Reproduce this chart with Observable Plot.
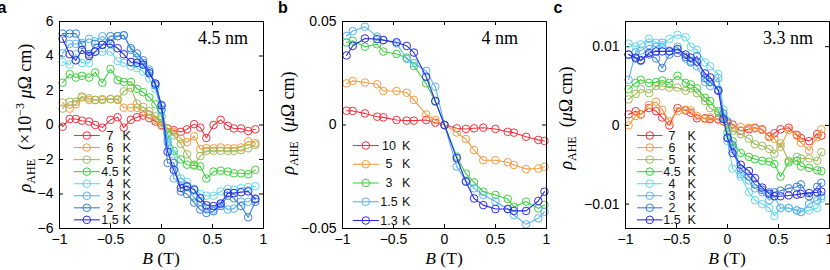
<!DOCTYPE html>
<html><head><meta charset="utf-8">
<script src="https://cdn.jsdelivr.net/npm/d3@7"></script>
<script src="https://cdn.jsdelivr.net/npm/@observablehq/plot@0.6"></script>
<style>
body{margin:0;background:#fff}
#wrap{position:relative;width:830px;height:270px;overflow:hidden;background:#fff}
#wrap svg{position:absolute;top:0}
</style>
</head><body><div id="wrap"></div>
<script>
// ---------- shared ticks ----------
const X_TICKS = [-1, -0.5, 0, 0.5, 1];
const X_TICK_LABELS = ["−1", "−0.5", "0", "0.5", "1"];

// ---------- panel a: 4.5 nm ----------
const A_TEMPS = ["7", "6", "5", "4.5", "4", "3", "2", "1.5"];
const A_Y_TICKS = [-6, -4, -2, 0, 2, 4, 6];
const A_Y_TICK_LABELS = ["−6", "−4", "−2", "0", "2", "4", "6"];
const A_B = [-0.97,-0.9,-0.84,-0.78,-0.71,-0.65,-0.58,-0.5,-0.43,-0.37,-0.3,-0.24,-0.18,-0.12,-0.06,0,0.06,0.12,0.19,0.25,0.32,0.38,0.44,0.51,0.58,0.65,0.71,0.78,0.85,0.92];
const A_7K  = [-0.1,0.35,0.35,0.25,0.2,0,-0.15,0.3,0.45,-0.15,0.3,0.45,0.55,0.4,0.2,0,-0.2,-0.3,-0.4,-0.25,0.05,-0.15,-0.75,0,0.3,-0.05,-0.2,-0.2,-0.35,-0.25];
const A_6K  = [1.3,0.95,1.2,1.6,1.45,1.45,1.45,1.5,1.5,1.0,1.0,1.0,0.8,0.6,0.3,-0.05,-0.25,-0.4,-0.8,-1.0,-0.65,-1.4,-1.35,-1.35,-1.3,-1.35,-1.35,-1.3,-0.95,-1.05];
const A_5K  = [0.95,1.35,1.35,1.65,1.55,1.45,1.5,1.5,1.45,1.95,2.15,1.25,1.05,0.8,0.5,0.1,-0.2,-0.6,-1.1,-1.7,-2.3,-1.8,-1.5,-1.5,-1.5,-1.5,-1.5,-1.45,-1.35,-1.15];
const A_45K = [2.45,2.95,2.75,2.85,2.75,3.05,2.45,3.25,2.6,2.5,2.5,2.1,1.9,1.6,1.2,0.5,-0.5,-1.5,-2.0,-2.3,-2.35,-2.4,-3.1,-2.7,-2.65,-2.7,-2.8,-2.8,-2.85,-2.6];
const A_4K  = [3.65,3.5,4.1,3.6,3.6,4.25,4.25,4.25,3.7,3.6,3.4,3.3,3.1,2.7,2.1,0.8,-0.8,-1.7,-3.1,-3.3,-3.7,-4.0,-4.1,-4.1,-3.85,-3.7,-3.75,-3.65,-3.6,-3.55];
const A_3K  = [4.15,4.7,4.7,4.75,5.0,4.85,5.15,4.75,5.15,5.2,4.35,3.9,3.6,3.2,2.4,1.1,-1.0,-3.1,-3.3,-3.6,-4.2,-4.45,-4.8,-4.9,-4.6,-4.9,-4.85,-4.45,-4.45,-4.25];
const A_2K  = [5.3,5.3,5.3,4.65,4.1,4.7,4.65,5.15,5.15,5.2,4.45,4.15,3.75,3.1,2.3,0.9,-2.2,-2.2,-3.85,-4.0,-4.5,-4.9,-5.1,-5.0,-4.7,-4.1,-4.25,-4.7,-5.35,-4.45];
const A_15K = [5.0,4.1,3.75,4.35,4.0,4.25,4.65,4.7,4.45,4.1,3.65,3.6,3.5,3.0,2.4,1.15,-1.55,-2.6,-3.65,-3.55,-3.75,-4.25,-4.65,-4.7,-4.55,-3.95,-3.95,-3.9,-3.85,-4.3];

// ---------- panel b: 4 nm ----------
const B_TEMPS = ["10", "5", "3", "1.5", "1.3"];
const B_Y_TICKS = [-0.05, 0, 0.05];
const B_Y_TICK_LABELS = ["−0.05", "0", "0.05"];
const B_B = [-0.96,-0.9,-0.78,-0.66,-0.6,-0.47,-0.37,-0.3,-0.18,-0.09,0,0.12,0.21,0.29,0.38,0.5,0.62,0.68,0.8,0.92,0.98];
const B_10K  = [0.0069,0.0068,0.0056,0.004,0.0037,0.0024,0.0021,0.0021,0.0024,0.0011,0,-0.0016,-0.0019,-0.0016,-0.0013,-0.0019,-0.0033,-0.0037,-0.0057,-0.0072,-0.0077];
const B_5K   = [0.0201,0.0213,0.0205,0.0197,0.0164,0.0164,0.0156,0.0121,0.0051,0.0024,0,-0.0036,-0.0068,-0.0121,-0.017,-0.017,-0.018,-0.0193,-0.0213,-0.021,-0.0202];
const B_3K   = [0.0399,0.0407,0.0378,0.039,0.0355,0.0343,0.0325,0.0285,0.0201,0.0113,0,-0.0153,-0.0235,-0.0277,-0.0322,-0.0338,-0.0357,-0.0395,-0.037,-0.0403,-0.0386];
const B_15K  = [0.043,0.0454,0.0475,0.0427,0.041,0.0394,0.0319,0.0298,0.0261,0.0185,0,-0.0201,-0.027,-0.0306,-0.0338,-0.037,-0.0406,-0.0435,-0.048,-0.0451,-0.0419];
const B_13K  = [0.0336,0.0382,0.0418,0.0415,0.041,0.040,0.0382,0.035,0.0233,0.0116,0,-0.016,-0.0274,-0.0355,-0.0387,-0.0406,-0.0406,-0.0415,-0.0415,-0.0367,-0.0322];

// ---------- panel c: 3.3 nm ----------
const C_TEMPS = ["7", "6", "5", "4.5", "4", "3", "2", "1.5"];
const C_Y_TICKS = [-0.01, 0, 0.01];
const C_Y_TICK_LABELS = ["−0.01", "0", "0.01"];
const C_B = [-0.97,-0.9,-0.85,-0.77,-0.7,-0.64,-0.57,-0.49,-0.41,-0.36,-0.3,-0.22,-0.17,-0.09,-0.04,0,0.05,0.13,0.21,0.27,0.34,0.41,0.46,0.52,0.6,0.68,0.72,0.8,0.88,0.92];
const C_7K  = [0.0014,0.0018,0.0014,0.0022,0.0018,0.0010,0.0000,0.0022,0.0019,0.0016,0.0009,0.0009,0.0008,0.0008,0.0005,0.0003,0.0001,-0.0007,-0.0005,-0.0003,-0.0005,-0.0014,-0.0010,-0.0005,-0.0003,-0.0012,-0.0016,-0.0020,-0.0011,-0.0013];
const C_6K  = [0.0000,0.0012,0.0014,0.0026,0.0030,0.0020,0.0005,0.0018,0.0020,0.0019,0.0012,0.0008,0.0010,0.0007,0.0005,0.0002,-0.0003,-0.0002,-0.0003,-0.0004,-0.0006,-0.0015,-0.0017,-0.0027,-0.0006,-0.0013,-0.0022,-0.0032,-0.0015,-0.0005];
const C_5K  = [0.0033,0.0040,0.0046,0.0041,0.0050,0.0050,0.0048,0.0048,0.0044,0.0047,0.0041,0.0031,0.0022,0.0016,0.0010,0.0003,-0.0007,-0.0011,-0.0017,-0.0024,-0.0026,-0.0030,-0.0036,-0.0023,-0.0045,-0.0040,-0.0042,-0.0042,-0.0045,-0.0034];
const C_45K = [0.0046,0.0054,0.0058,0.0054,0.0055,0.0057,0.0054,0.0063,0.0054,0.0052,0.0047,0.0035,0.0031,0.0018,0.0010,-0.0009,-0.0020,-0.0035,-0.0040,-0.0043,-0.0045,-0.0046,-0.0049,-0.0065,-0.0047,-0.0045,-0.0052,-0.0054,-0.0057,-0.0058];
const C_4K  = [0.0104,0.0100,0.0103,0.0110,0.0105,0.0102,0.0110,0.0115,0.0112,0.0100,0.0096,0.0080,0.0075,0.0065,0.0020,-0.0020,-0.0055,-0.0065,-0.0085,-0.0095,-0.0100,-0.0105,-0.0115,-0.0105,-0.0105,-0.0108,-0.0110,-0.0108,-0.0105,-0.0093];
const C_3K  = [0.0058,0.0093,0.0095,0.0102,0.0100,0.0105,0.0095,0.0100,0.0085,0.0082,0.0075,0.0055,0.0050,0.0060,0.0010,-0.0015,-0.0030,-0.0062,-0.0070,-0.0080,-0.0085,-0.0095,-0.0090,-0.0105,-0.0105,-0.0108,-0.0110,-0.0100,-0.0095,-0.0090];
const C_2K  = [0.0090,0.0085,0.0082,0.0090,0.0085,0.0073,0.0090,0.0092,0.0087,0.0080,0.0088,0.0060,0.0055,0.0045,0.0015,0.0005,-0.0025,-0.0055,-0.0065,-0.0075,-0.0082,-0.0085,-0.0085,-0.0083,-0.0080,-0.0078,-0.0075,-0.0090,-0.0078,-0.0073];
const C_15K = [0.0090,0.0086,0.0083,0.0092,0.0094,0.0094,0.0094,0.0097,0.0090,0.0086,0.0081,0.0066,0.0061,0.0044,0.0008,-0.0016,-0.0035,-0.0050,-0.0058,-0.0067,-0.0079,-0.0087,-0.0090,-0.0090,-0.0089,-0.0088,-0.0087,-0.0086,-0.0085,-0.0084];

// ---------- styles ----------
const COLORS_8 = ["#ec3341", "#f59c3c", "#9fbb5c", "#3fd13f", "#63d9ea", "#5ab3f0", "#3b7fd3", "#2b2de2"];
const COLORS_5 = ["#ec3341", "#f59c3c", "#3fd13f", "#5ab3f0", "#2b2de2"];
const SANS = "'Liberation Sans', Arial, Helvetica, sans-serif";
const SERIF = "'Liberation Serif', 'Times New Roman', serif";

const wrap = document.getElementById("wrap");

function makePanel(cfg) {
  const H = 270;
  const {left, width, mL, mR, mT, mB, yDomain, yTicks, yTickLabels, B, series, temps, colors, legend} = cfg;
  const pw = width - mL - mR, ph = H - mT - mB;
  const px2x = px => -1 + (px - left - mL) / pw * 2;
  const px2y = py => yDomain[1] - (py - mT) / ph * (yDomain[1] - yDomain[0]);
  const marks = [];
  // inward ticks on all four sides
  marks.push(Plot.tickX(X_TICKS, {x: d => d, insetTop: ph - 4, stroke: "#000", strokeWidth: 1}));
  marks.push(Plot.tickX(X_TICKS, {x: d => d, insetBottom: ph - 4, stroke: "#000", strokeWidth: 1}));
  marks.push(Plot.tickY(yTicks, {y: d => d, insetRight: pw - 4, stroke: "#000", strokeWidth: 1}));
  marks.push(Plot.tickY(yTicks, {y: d => d, insetLeft: pw - 4, stroke: "#000", strokeWidth: 1}));
  // data
  series.forEach((vals, i) => {
    const rows = B.map((b, j) => ({B: b, v: vals[j]}));
    marks.push(Plot.line(rows, {x: "B", y: "v", stroke: colors[i], strokeWidth: 1.1}));
    marks.push(Plot.dot(rows, {x: "B", y: "v", r: 3.8, stroke: colors[i], strokeWidth: 1, fill: "none"}));
  });
  // legend
  const xa = px2x(legend.x0), xb = px2x(legend.x1), xm = (xa + xb) / 2;
  const xn = px2x(legend.numX), xk = px2x(legend.kX);
  temps.forEach((t, i) => {
    const yy = px2y(legend.y0 + i * legend.dy);
    const row = [{t, y: yy}];
    marks.push(Plot.link(row, {x1: () => xa, x2: () => xb, y1: "y", y2: "y", stroke: colors[i], strokeWidth: 1.1}));
    marks.push(Plot.dot(row, {x: () => xm, y: "y", r: 3.8, stroke: colors[i], strokeWidth: 1, fill: "none"}));
    marks.push(Plot.text(row, {x: () => xn, y: "y", text: "t", textAnchor: "middle", fontSize: 12.5, fontFamily: SANS, fill: "#111"}));
    marks.push(Plot.text(row, {x: () => xk, y: "y", text: () => "K", textAnchor: "start", fontSize: 12.5, fontFamily: SANS, fill: "#111"}));
  });
  marks.push(Plot.frame({stroke: "#000", strokeWidth: 1}));
  marks.push(Plot.axisX(X_TICKS, {tickSize: 0, tickPadding: 6, fontSize: 14, label: null,
    tickFormat: d => X_TICK_LABELS[X_TICKS.indexOf(d)]}));
  marks.push(Plot.axisY(yTicks, {tickSize: 0, tickPadding: 6, fontSize: 14, label: null,
    tickFormat: d => yTickLabels[yTicks.indexOf(d)]}));

  const svg = Plot.plot({
    width, height: H, marginLeft: mL, marginRight: mR, marginTop: mT, marginBottom: mB,
    x: {domain: [-1, 1]}, y: {domain: yDomain},
    style: {fontFamily: SANS, fontSize: "14px", background: "transparent", color: "#000", overflow: "visible"},
    marks
  });
  svg.style.left = left + "px";
  wrap.appendChild(svg);

  const s = d3.select(svg);
  // panel letter
  s.append("text").attr("x", cfg.letterX - left).attr("y", 13)
    .attr("font-family", SANS).attr("font-weight", "bold").attr("font-size", 16).text(cfg.letter);
  // annotation
  s.append("text").attr("x", cfg.noteX - left).attr("y", 44).attr("text-anchor", "end")
    .attr("font-family", SERIF).attr("font-size", 18).text(cfg.note);
  // x label
  const xl = s.append("text").attr("x", cfg.xLabelX - left).attr("y", 264).attr("text-anchor", "middle")
    .attr("font-family", SERIF).attr("font-size", 17.5);
  xl.append("tspan").attr("font-style", "italic").text("B");
  xl.append("tspan").text(" (T)");
  // y label
  const yl = s.append("text").attr("transform", `translate(${cfg.yLabelX - left},${cfg.yLabelY}) rotate(-90)`)
    .attr("text-anchor", "middle").attr("font-family", SERIF).attr("font-size", 18);
  let shift = 0;
  cfg.yLabelParts.forEach(([txt, kind]) => {
    const ts = yl.append("tspan").text(txt);
    let target = 0;
    if (kind === "it") ts.attr("font-style", "italic");
    if (kind === "sub") { ts.attr("font-size", 12); target = 4; }
    if (kind === "sup") { ts.attr("font-size", 12); target = -7; }
    ts.attr("dy", target - shift);
    shift = target;
  });
}

const UNIT_PARTS = [["ρ", "it"], ["AHE", "sub"], ["  (", "n"], ["μ", "it"], ["Ω cm)", "n"]];
const UNIT_PARTS_A = [["ρ", "it"], ["AHE", "sub"], ["  (×10", "n"], ["−3", "sup"], [" ", "n"], ["μ", "it"], ["Ω cm)", "n"]];

makePanel({
  left: 0, width: 277, mL: 59, mR: 14, mT: 21, mB: 42,
  yDomain: [-6, 6], yTicks: A_Y_TICKS, yTickLabels: A_Y_TICK_LABELS,
  B: A_B, series: [A_7K, A_6K, A_5K, A_45K, A_4K, A_3K, A_2K, A_15K],
  temps: A_TEMPS, colors: COLORS_8,
  legend: {x0: 73.3, x1: 99.3, numX: 109.5, kX: 122, y0: 135, dy: 12.05},
  letter: "a", letterX: 2, note: "4.5 nm", noteX: 248, xLabelX: 161,
  yLabelX: 31, yLabelY: 118, yLabelParts: UNIT_PARTS_A
});
makePanel({
  left: 280, width: 277, mL: 62, mR: 11, mT: 21, mB: 42,
  yDomain: [-0.05, 0.05], yTicks: B_Y_TICKS, yTickLabels: B_Y_TICK_LABELS,
  B: B_B, series: [B_10K, B_5K, B_3K, B_15K, B_13K],
  temps: B_TEMPS, colors: COLORS_5,
  legend: {x0: 352.3, x1: 378.3, numX: 388.5, kX: 401.5, y0: 145, dy: 18.75},
  letter: "b", letterX: 283, note: "4 nm", noteX: 518, xLabelX: 444,
  yLabelX: 294, yLabelY: 123, yLabelParts: UNIT_PARTS
});
makePanel({
  left: 557, width: 273, mL: 68, mR: 1, mT: 21, mB: 42,
  yDomain: [-0.0131, 0.0132], yTicks: C_Y_TICKS, yTickLabels: C_Y_TICK_LABELS,
  B: C_B, series: [C_7K, C_6K, C_5K, C_45K, C_4K, C_3K, C_2K, C_15K],
  temps: C_TEMPS, colors: COLORS_8,
  legend: {x0: 636.5, x1: 662, numX: 671.5, kX: 687, y0: 135, dy: 12.05},
  letter: "c", letterX: 558, note: "3.3 nm", noteX: 813, xLabelX: 727,
  yLabelX: 572, yLabelY: 118, yLabelParts: UNIT_PARTS
});
</script>
</body></html>
